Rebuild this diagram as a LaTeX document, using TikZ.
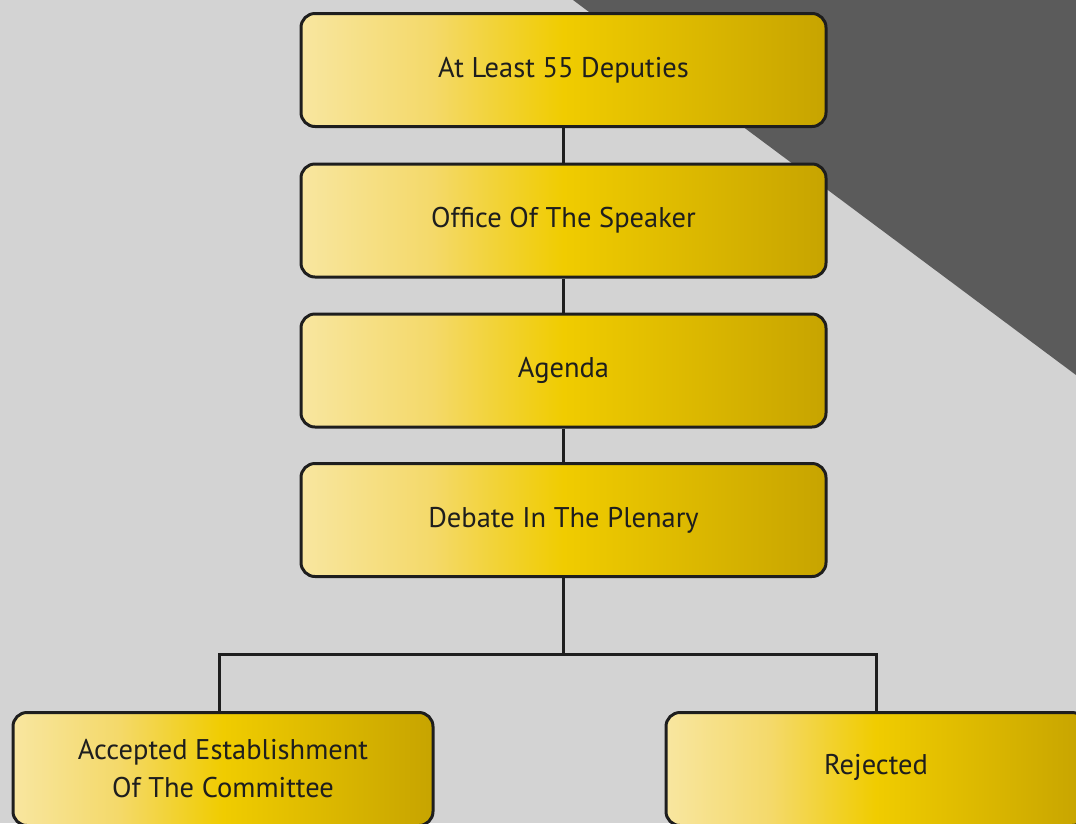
\documentclass[tikz,border=0pt]{standalone}
\usepackage{fontspec}
\setmainfont{PT Sans}
\definecolor{bg}{HTML}{D3D3D3}
\definecolor{darktri}{HTML}{5B5B5B}
\definecolor{ink}{HTML}{1E1E1E}
\definecolor{gl}{HTML}{F8E6A0}
\definecolor{gq}{HTML}{F4D96A}
\definecolor{gm}{HTML}{F0CC00}
\definecolor{gr}{HTML}{C7A400}
\pgfdeclarehorizontalshading{goldbar}{100bp}{color(0bp)=(gl); color(25bp)=(gl); color(37.5bp)=(gq); color(50bp)=(gm); color(75bp)=(gr); color(100bp)=(gr)}
\tikzset{
  stepbox/.style={rectangle, rounded corners=14pt, draw=ink, line width=3pt,
    shading=goldbar,
    minimum width=525pt, minimum height=113pt, inner sep=0pt,
    font=\fontsize{28.5}{37}\selectfont, text=ink, align=center},
  smallbox/.style={stepbox, minimum width=420pt},
  link/.style={draw=ink, line width=3pt}
}
\begin{document}
\begin{tikzpicture}[x=1pt,y=-1pt]
\fill[bg] (0,0) rectangle (1076,823);
\useasboundingbox (0,0) rectangle (1076,823);
\fill[darktri] (573,0) -- (1076,0) -- (1076,375) -- cycle;
\node[stepbox] (n1) at (563.5,70) {\raisebox{6pt}{At Least 55 Deputies}};
\node[stepbox] (n2) at (563.5,220.5) {\raisebox{6pt}{Office Of The Speaker}};
\node[stepbox] (n3) at (563.5,370.5) {\raisebox{6pt}{Agenda}};
\node[stepbox] (n4) at (563.5,520) {Debate In The Plenary};
\node[smallbox] (n5) at (223,769) {\raisebox{1pt}{Accepted Establishment}\\Of The Committee};
\node[smallbox] (n6) at (876,769) {\raisebox{9pt}{Rejected}};
\coordinate (split) at (563.5,654);
\draw[link] (n1.south) -- (n2.north);
\draw[link] (n2.south) -- (n3.north);
\draw[link] (n3.south) -- (n4.north);
\draw[link] (n4.south) -- (split);
\draw[link] (n5.north -| 219,0) |- (split) -| (n6.north);
\end{tikzpicture}
\end{document}
